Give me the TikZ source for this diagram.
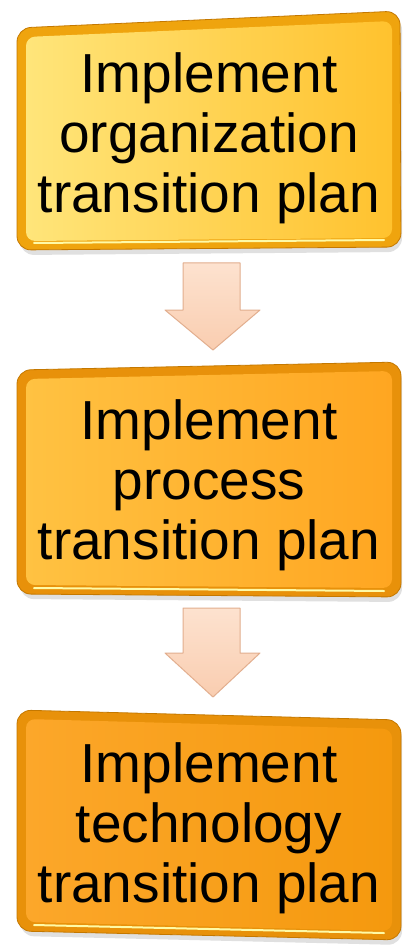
\documentclass[tikz,border=0pt]{standalone}
\usepackage{fontspec}
\setmainfont{Liberation Sans}
\usetikzlibrary{calc}

\definecolor{rimgold}{HTML}{EFA40E}
\definecolor{rimorange}{HTML}{E8910A}
\definecolor{rimedge}{HTML}{C47800}
\definecolor{faceA}{HTML}{FFE57A}
\definecolor{faceB}{HTML}{FFC22E}
\definecolor{faceC}{HTML}{FFC242}
\definecolor{faceD}{HTML}{FFA621}
\definecolor{faceE}{HTML}{FCA72A}
\definecolor{faceF}{HTML}{F5990E}
\definecolor{arrowlight}{HTML}{FDE2CF}
\definecolor{arrowdark}{HTML}{F9CDB0}
\definecolor{arrowedge}{HTML}{E2AE8E}

\begin{document}
\begin{tikzpicture}[x=1pt, y=-1pt,
    shadow/.style = {fill=black!12, rounded corners=14pt},
    rim/.style = {draw=rimedge, line width=0.8pt, rounded corners=14pt},
    face/.style = {rounded corners=9pt, shading angle=-60},
    rimlight/.style = {draw=yellow!35, line width=2pt, line cap=round},
    stagetext/.style = {align=center, inner sep=0pt, font=\fontsize{55}{60}\selectfont},
    downarrow/.style = {draw=arrowedge, line width=1pt, top color=arrowlight, bottom color=arrowdark, line join=round}]
    \useasboundingbox (0,0) rectangle (403,949);
    \fill[white] (0,0) rectangle (403,949);

    % organization
    \path[shadow] (20,33) -- (402,16) -- (402,252) -- (20,255) -- cycle;
    \path[rim, fill=rimgold] (17,28) -- (400,11) -- (401,247) -- (17,250) -- cycle;
    \shade[face, left color=faceA, right color=faceB] (26,37) -- (392,21) -- (392,238) -- (26,241) -- cycle;
    \draw[rimlight] (34,243) -- (384,240);
    \node[stagetext] (org) at (209,138) {Implement\\organization\\transition plan};

    % process
    \path[shadow] (20,375) -- (402,367) -- (402,602) -- (20,599) -- cycle;
    \path[rim, fill=rimorange] (17,370) -- (401,362) -- (401,597) -- (17,594) -- cycle;
    \shade[face, left color=faceC, right color=faceD] (26,379) -- (392,371) -- (392,588) -- (26,585) -- cycle;
    \draw[rimlight] (34,588) -- (384,591);
    \node[stagetext] (proc) at (209,485) {Implement\\process\\transition plan};

    % technology
    \path[shadow] (20,715) -- (402,725) -- (402,945) -- (20,936) -- cycle;
    \path[rim, fill=rimorange] (17,710) -- (401,720) -- (401,940) -- (17,931) -- cycle;
    \shade[face, left color=faceE, right color=faceF] (26,719) -- (392,729) -- (392,931) -- (26,922) -- cycle;
    \draw[rimlight] (34,925) -- (384,933);
    \node[stagetext] (tech) at (209,828) {Implement\\technology\\transition plan};

    % arrows between the stages
    \draw[downarrow] (183,263) -- (240,263) -- (240,310) -- (260,310) -- (213,350)
        -- (165,310) -- (183,310) -- cycle;
    \draw[downarrow] (183,608) -- (240,608) -- (240,653) -- (260,653) -- (213,697)
        -- (165,653) -- (183,653) -- cycle;
\end{tikzpicture}
\end{document}
